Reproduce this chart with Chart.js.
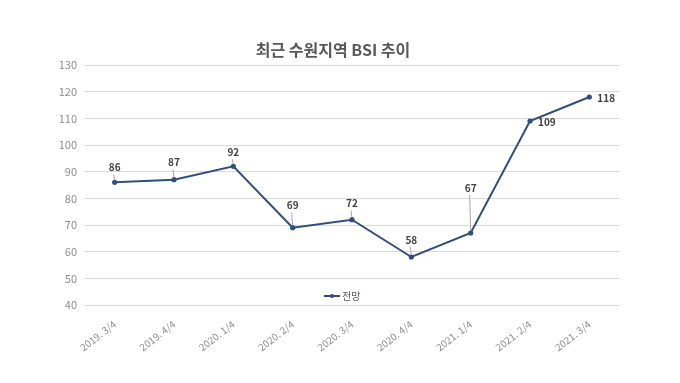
<!DOCTYPE html>
<html><head><meta charset="utf-8">
<script src="https://cdn.jsdelivr.net/npm/chart.js@4/dist/chart.umd.min.js"></script>
<style>html,body{margin:0;padding:0;background:#fff;}#wrap{width:680px;height:383px;}</style>
</head><body><div id="wrap"><canvas id="c" width="680" height="383"></canvas></div>
<script>
const categories = ["2019. 3/4","2019. 4/4","2020. 1/4","2020. 2/4","2020. 3/4","2020. 4/4","2021. 1/4","2021. 2/4","2021. 3/4"];
const forecast = [86, 87, 92, 69, 72, 58, 67, 109, 118];
const seriesName = "전망";
const chartTitle = "최근 수원지역 BSI 추이";
const yMin = 40, yMax = 130, yStep = 10;

const FONT = "'Noto Sans CJK KR','Noto Sans',sans-serif";
const LINE = "#2E4E7E";

const labelSide = ["up","up","up","up","up","up","up","right","right"];
const labelLift = [15, 17, 14, 22, 16, 17, 45, 0, 0];

const overlay = {
  id: 'overlay',
  afterDraw(chart) {
    const ctx = chart.ctx;
    ctx.save();
    ctx.fillStyle = "#595959";
    ctx.font = "bold 16px " + FONT;
    ctx.textAlign = "center"; ctx.textBaseline = "middle";
    ctx.fillText(chartTitle, 333, 50);
    const meta = chart.getDatasetMeta(0);
    meta.data.forEach((pt, i) => {
      const v = forecast[i];
      ctx.font = "bold 10px " + FONT;
      ctx.fillStyle = "#404040";
      if (labelSide[i] === "up") {
        const ly = pt.y - labelLift[i];
        ctx.textAlign = "center"; ctx.textBaseline = "middle";
        ctx.fillText(String(v), pt.x, ly);
        ctx.strokeStyle = "#A6A6A6"; ctx.lineWidth = 1;
        ctx.beginPath(); ctx.moveTo(pt.x - 1, ly + 7); ctx.lineTo(pt.x, pt.y - 2); ctx.stroke();
      } else {
        ctx.textAlign = "left"; ctx.textBaseline = "middle";
        ctx.fillText(String(v), pt.x + 8, pt.y + 1);
      }
    });
    const lx = 324, ly = 296;
    ctx.strokeStyle = LINE; ctx.lineWidth = 2;
    ctx.beginPath(); ctx.moveTo(lx, ly); ctx.lineTo(lx + 16, ly); ctx.stroke();
    ctx.fillStyle = LINE;
    ctx.beginPath(); ctx.arc(lx + 8, ly, 2, 0, Math.PI * 2); ctx.fill();
    ctx.fillStyle = "#595959";
    ctx.font = "10px " + FONT;
    ctx.textAlign = "left"; ctx.textBaseline = "middle";
    ctx.fillText(seriesName, lx + 18, ly);
    ctx.restore();
  }
};

new Chart(document.getElementById('c'), {
  type: 'line',
  data: {
    labels: categories,
    datasets: [{
      label: seriesName,
      data: forecast,
      borderColor: LINE,
      backgroundColor: LINE,
      borderWidth: 2,
      pointRadius: 1.6,
      pointHoverRadius: 1.6,
      tension: 0
    }]
  },
  options: {
    responsive: false,
    animation: false,
    layout: { padding: { top: 65, right: 61, left: 0, bottom: 0 } },
    plugins: { legend: { display: false }, title: { display: false }, tooltip: { enabled: false } },
    scales: {
      x: {
        offset: true,
        grid: { display: false },
        border: { display: false },
        ticks: { color: "#8C8C8C", font: { size: 10, family: FONT }, minRotation: 38, maxRotation: 38, padding: 5 },
        afterFit(s) { s.height = 78; }
      },
      y: {
        min: yMin, max: yMax,
        grid: { color: "#D9D9D9", lineWidth: 1, drawTicks: false },
        border: { display: false },
        ticks: { stepSize: yStep, color: "#8C8C8C", font: { size: 11, family: FONT }, padding: 8 },
        afterFit(s) { s.width = 85; }
      }
    }
  },
  plugins: [overlay]
});
</script>
</body></html>
